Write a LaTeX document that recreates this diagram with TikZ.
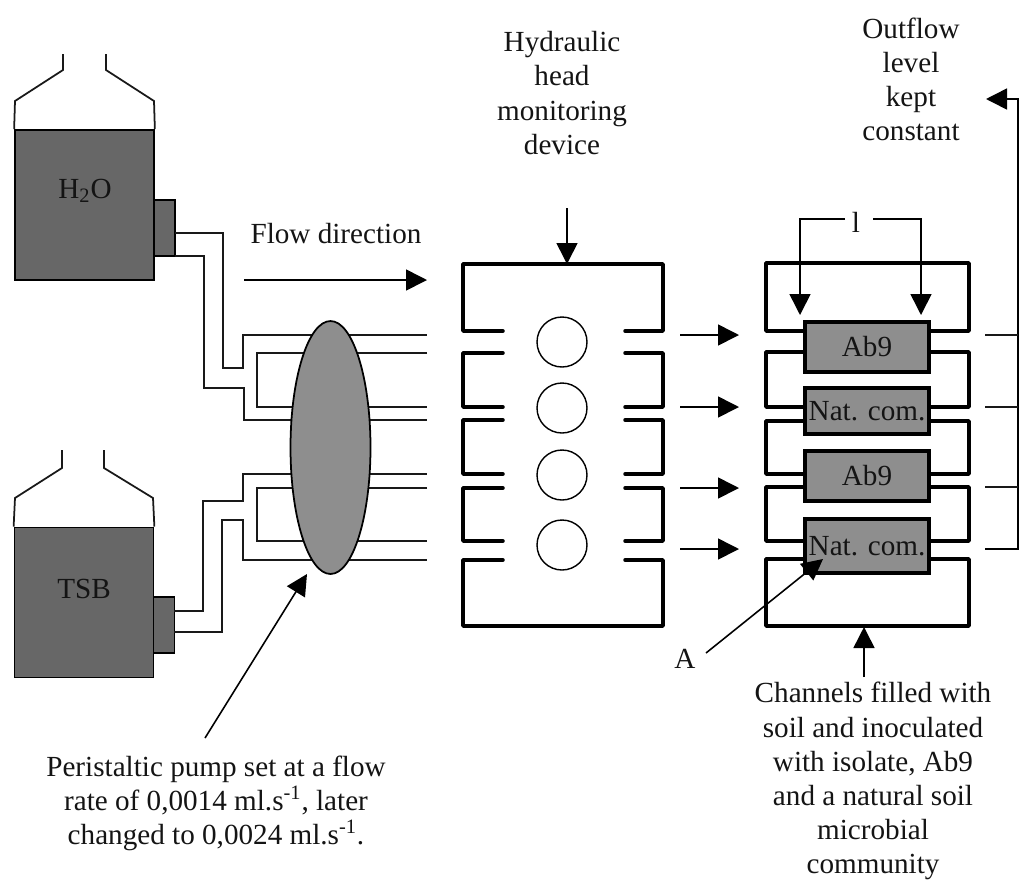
\documentclass[tikz,border=0pt]{standalone}
\usepackage{fontspec}
\setmainfont{Liberation Serif}
\usepackage{xcolor}
\usetikzlibrary{arrows.meta,shapes.geometric}
\definecolor{tankgray}{HTML}{676767}
\definecolor{boxgray}{HTML}{8E8E8E}
\definecolor{inkgray}{HTML}{141414}
\begin{document}
\begin{tikzpicture}[
  x=0.02cm, y=-0.02cm,
  txt/.style={font=\fontsize{16.6}{19.4}\selectfont, text=inkgray, align=center, inner sep=0pt},
  tank/.style={draw=black, line width=1pt, fill=tankgray, minimum width=2.78cm, minimum height=3cm, inner sep=0pt},
  port/.style={draw=black, line width=1pt, fill=tankgray, minimum width=0.42cm, minimum height=1.12cm, inner sep=0pt},
  cell/.style={txt, draw=black, line width=2pt, fill=boxgray, minimum width=2.48cm},
  pipe/.style={black!90, line width=1pt},
  wall/.style={black, line width=2pt, line cap=round, line join=round},
  well/.style={circle, draw=black, line width=0.8pt, fill=white, minimum size=1cm, inner sep=0pt},
  arr/.style={-{Triangle[length=4.2mm,width=4.2mm]}, black, line width=0.9pt}
]
\useasboundingbox (0,0) rectangle (1020,880);
% reservoirs
\node[tank] (water) at (84.5,205) {};
\node[tank] (broth) at (84,602.5) {};
\node[port] (waterport) at (164.5,228) {};
\node[port] (brothport) at (164,625) {};
\node[txt] (waterlab) at (85,191) {H\textsubscript{2}O};
\node[txt] (brothlab) at (84,589) {TSB};
\draw[pipe] (water.north west) -- (15,101) -- (63,70) -- (63,54);
\draw[pipe] (water.north east) -- (154,101) -- (106,70) -- (106,54);
\draw[pipe] (broth.north west) -- (15,498) -- (62,468) -- (62,450);
\draw[pipe] (broth.north east) -- (153,498) -- (104,468) -- (104,450);
% tubing, left of the pump and through it
\coordinate (wa) at (175,233);
\coordinate (wb) at (175,256);
\coordinate (ba) at (174,611);
\coordinate (bb) at (174,632);
\coordinate (ta) at (427,335);
\coordinate (tb) at (427,353);
\coordinate (tc) at (427,407);
\coordinate (td) at (427,420);
\coordinate (te) at (427,474);
\coordinate (tf) at (427,488);
\coordinate (tg) at (427,541);
\coordinate (th) at (427,560);
\draw[pipe] (wa) -- (223,233) -- (223,368) -- (243,368) -- (243,335) -- (ta);
\draw[pipe] (wb) -- (204,256) -- (204,388) -- (244,388) -- (244,420) -- (td);
\draw[pipe] (tb) -- (257,353) -- (257,407) -- (tc);
\draw[pipe] (ba) -- (203,611) -- (203,501) -- (243,501) -- (243,474) -- (te);
\draw[pipe] (bb) -- (222,632) -- (222,520) -- (243,520) -- (243,560) -- (th);
\draw[pipe] (tf) -- (257,488) -- (257,541) -- (tg);
\node[ellipse, draw=black, line width=1pt, fill=boxgray, minimum width=1.6cm, minimum height=5.06cm, inner sep=0pt] (pump) at (330.5,447.5) {};
% middle block
\draw[wall] (503,331) -- (463,331) -- (463,264) -- (663,264) -- (663,331) -- (625,331);
\draw[wall] (503,353) -- (463,353) -- (463,407) -- (503,407);
\draw[wall] (625,353) -- (663,353) -- (663,407) -- (625,407);
\draw[wall] (503,420) -- (463,420) -- (463,474) -- (503,474);
\draw[wall] (625,420) -- (663,420) -- (663,474) -- (625,474);
\draw[wall] (503,488) -- (463,488) -- (463,541) -- (503,541);
\draw[wall] (625,488) -- (663,488) -- (663,541) -- (625,541);
\draw[wall] (503,560) -- (463,560) -- (463,626) -- (663,626) -- (663,560) -- (625,560);
\node[well] (wella) at (562,342) {};
\node[well] (wellb) at (562,408) {};
\node[well] (wellc) at (562,475) {};
\node[well] (welld) at (562,545) {};
% right block
\draw[wall] (805,331) -- (766,331) -- (766,263) -- (969,263) -- (969,331) -- (929,331);
\draw[wall] (805,352) -- (766,352) -- (766,407) -- (805,407);
\draw[wall] (929,352) -- (969,352) -- (969,407) -- (929,407);
\draw[wall] (805,421) -- (766,421) -- (766,474) -- (805,474);
\draw[wall] (929,421) -- (969,421) -- (969,474) -- (929,474);
\draw[wall] (805,487) -- (766,487) -- (766,541) -- (805,541);
\draw[wall] (929,487) -- (969,487) -- (969,541) -- (929,541);
\draw[wall] (805,559) -- (766,559) -- (766,626) -- (969,626) -- (969,559) -- (929,559);
\node[cell, minimum height=1cm] (cella) at (867,347) {Ab9};
\node[cell, minimum height=0.92cm] (cellb) at (867,411) {Nat. com.};
\node[cell, minimum height=1cm] (cellc) at (867,476) {Ab9};
\node[cell, minimum height=1.08cm] (celld) at (867,546) {Nat. com.};
% labels
\node[txt] (flowlab) at (336,234) {Flow direction};
\node[txt] (headlab) at (562,93) {Hydraulic\\head\\monitoring\\device};
\node[txt] (outlab) at (911,79) {Outflow\\level\\kept\\constant};
\node[txt] (lenlab) at (856,222) {l};
\node[txt] (alab) at (685,659) {A};
\node[txt] (pumplab) at (216,803) {Peristaltic pump set at a flow\\rate of 0,0014 ml.s\textsuperscript{-1}, later\\changed to 0,0024 ml.s\textsuperscript{-1}.};
\node[txt] (chanlab) at (873,781) {Channels filled with\\soil and inoculated\\with isolate, Ab9\\and a natural soil\\microbial\\community};
% arrows
\coordinate (flowa) at (244,280);
\coordinate (flowb) at (427,280);
\draw[arr] (flowa) -- (flowb);
\coordinate (heada) at (567,208);
\coordinate (headb) at (567,264);
\draw[arr] (heada) -- (headb);
\coordinate (pa) at (680,335);
\coordinate (pb) at (739,335);
\coordinate (qa) at (680,407);
\coordinate (qb) at (739,407);
\coordinate (ra) at (680,488);
\coordinate (rb) at (739,488);
\coordinate (sa) at (680,549);
\coordinate (sb) at (739,549);
\draw[arr] (pa) -- (pb);
\draw[arr] (qa) -- (qb);
\draw[arr] (ra) -- (rb);
\draw[arr] (sa) -- (sb);
\coordinate (lena) at (845,219);
\coordinate (lenb) at (873,219);
\coordinate (lenc) at (800,315);
\coordinate (lend) at (921,315);
\draw[arr] (lena) -- (800,219) -- (lenc);
\draw[arr] (lenb) -- (921,219) -- (lend);
\coordinate (outa) at (985,335);
\coordinate (outb) at (985,407);
\coordinate (outc) at (985,487);
\coordinate (outd) at (985,549);
\coordinate (oute) at (986,99);
\draw[arr] (outd) -- (1018,549) -- (1018,99) -- (oute);
\draw[pipe] (outa) -- (1018,335);
\draw[pipe] (outb) -- (1018,407);
\draw[pipe] (outc) -- (1018,487);
\coordinate (pumptip) at (307,574);
\coordinate (pumptail) at (205,738);
\draw[arr] (pumptail) -- (pumptip);
\coordinate (atip) at (823,559);
\coordinate (atail) at (706,653);
\draw[arr] (atail) -- (atip);
\coordinate (chantip) at (864,627);
\coordinate (chantail) at (864,677);
\draw[arr] (chantail) -- (chantip);
\end{tikzpicture}
\end{document}
